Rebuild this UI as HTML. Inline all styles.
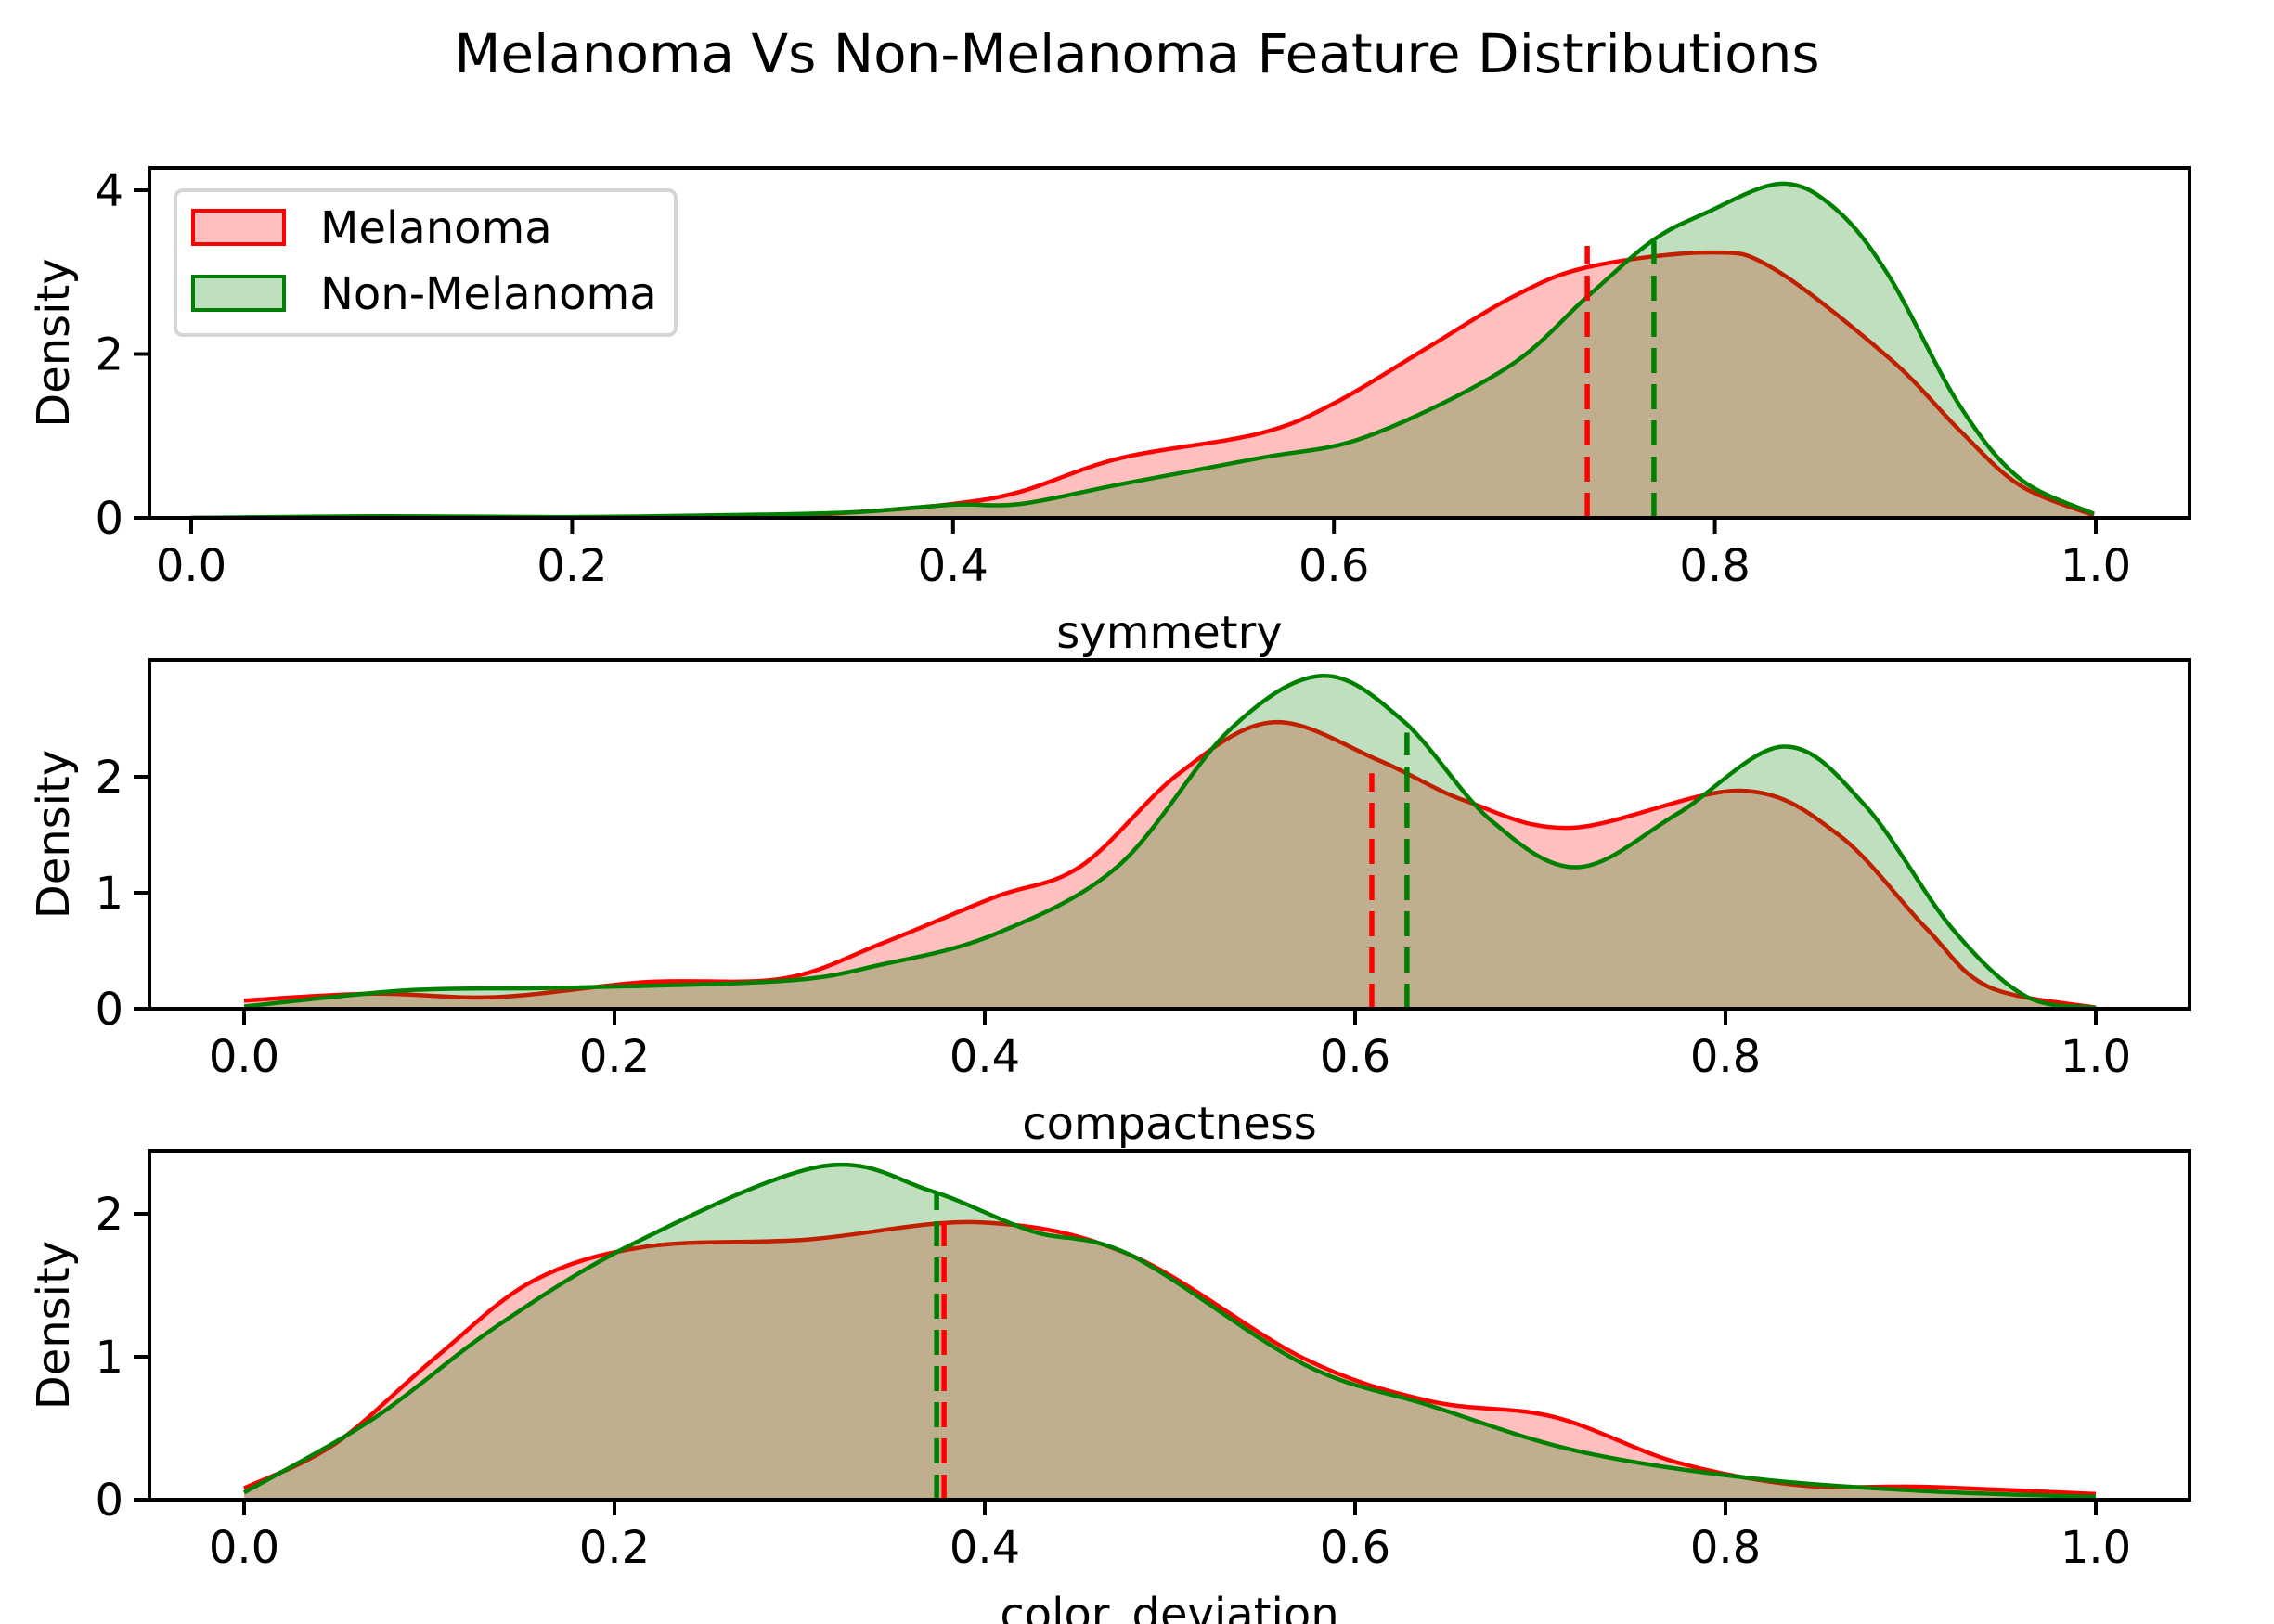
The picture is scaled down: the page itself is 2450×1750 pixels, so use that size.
<!DOCTYPE html>
<html><head><meta charset="utf-8">
<style>
html,body{margin:0;padding:0;background:#fff;}
svg{display:block;font-family:"DejaVu Sans","Liberation Sans",sans-serif;}
</style></head>
<body>
<svg id="chart" width="2450" height="1750" viewBox="0 0 2450 1750" xmlns="http://www.w3.org/2000/svg">
<rect width="2450" height="1750" fill="#fff"/>
<text x="1225" y="78" font-size="58" text-anchor="middle">Melanoma Vs Non-Melanoma Feature Distributions</text>
</svg>
<script>
// ---- data ----
const xTicks = [0.0, 0.2, 0.4, 0.6, 0.8, 1.0];
const xTickLabels = ["0.0","0.2","0.4","0.6","0.8","1.0"];
const featureNames = ["symmetry","compactness","color_deviation"];

const symMelX = [0,0.1,0.2,0.3,0.35,0.4,0.4355,0.488,0.561,0.601,0.65,0.694,0.733,0.797,0.831,0.892,0.928,0.96,0.999];
const symMelY = [0,0.005,0.005,0.02,0.07,0.17,0.32,0.73,1.03,1.41,2.09,2.70,3.06,3.24,3.04,1.94,1.08,0.40,0.03];
const symNonX = [0,0.1,0.2,0.3,0.35,0.4,0.4355,0.488,0.561,0.617,0.69,0.733,0.767,0.795,0.835,0.864,0.892,0.928,0.96,0.999];
const symNonY = [0,0.02,0.01,0.04,0.07,0.16,0.17,0.41,0.73,0.99,1.82,2.70,3.38,3.72,4.08,3.76,2.93,1.39,0.48,0.05];

const cmpMelX = [0,0.069,0.136,0.217,0.291,0.344,0.405,0.452,0.505,0.556,0.613,0.660,0.717,0.808,0.861,0.908,0.942,1.0];
const cmpMelY = [0.07,0.13,0.10,0.23,0.26,0.56,0.96,1.23,2.03,2.47,2.14,1.79,1.56,1.88,1.50,0.70,0.19,0.01];
const cmpNonX = [0,0.089,0.170,0.291,0.344,0.405,0.472,0.532,0.582,0.626,0.673,0.720,0.774,0.831,0.875,0.922,0.962,1.0];
const cmpNonY = [0.02,0.16,0.18,0.24,0.38,0.64,1.23,2.40,2.87,2.48,1.63,1.22,1.68,2.26,1.76,0.70,0.11,0.01];

const colMelX = [0,0.049,0.103,0.156,0.217,0.304,0.398,0.479,0.572,0.640,0.707,0.774,0.841,0.908,1.0];
const colMelY = [0.08,0.39,0.99,1.53,1.77,1.82,1.94,1.71,0.99,0.69,0.58,0.26,0.10,0.09,0.04];
const colNonX = [0,0.069,0.136,0.210,0.311,0.371,0.425,0.479,0.572,0.640,0.720,0.814,0.908,1.0];
const colNonY = [0.05,0.56,1.21,1.79,2.33,2.16,1.88,1.71,0.95,0.66,0.34,0.15,0.06,0.02];

const meanMel = [0.733, 0.609, 0.378];
const meanMelTop = [3.32, 2.03, 1.94];
const meanNon = [0.768, 0.628, 0.374];
const meanNonTop = [3.38, 2.38, 2.15];

const yTicks1 = [0,2,4];
const yTicks2 = [0,1,2];
const yTicks3 = [0,1,2];

// ---- layout ----
const NS = "http://www.w3.org/2000/svg";
const svg = document.getElementById('chart');
function mk(tag, attrs, parent){
  const e = document.createElementNS(NS, tag);
  for (const k in attrs) e.setAttribute(k, attrs[k]);
  (parent||svg).appendChild(e);
  return e;
}
const panels = [
  {top:181,bottom:558,left:161,right:2359,x0:206,x1:2258,y0:558,yPerUnit:94.25,yt:yTicks1,
   mx:symMelX,my:symMelY,nx:symNonX,ny:symNonY,label:1},
  {top:711,bottom:1087,left:161,right:2359,x0:263,x1:2258,y0:1087,yPerUnit:125,yt:yTicks2,
   mx:cmpMelX,my:cmpMelY,nx:cmpNonX,ny:cmpNonY},
  {top:1240,bottom:1616,left:161,right:2359,x0:263,x1:2258,y0:1616,yPerUnit:154,yt:yTicks3,
   mx:colMelX,my:colMelY,nx:colNonX,ny:colNonY}
];
// panel 1: y4 at 205 -> (558-205)/4 = 88.25
panels[0].yPerUnit = 88.25;

function smoothPath(xs, ys){
  let d = `M${xs[0]},${ys[0]}`;
  for (let i=0;i<xs.length-1;i++){
    const x0 = xs[Math.max(i-1,0)], y0 = ys[Math.max(i-1,0)];
    const x1 = xs[i], y1 = ys[i], x2 = xs[i+1], y2 = ys[i+1];
    const x3 = xs[Math.min(i+2,xs.length-1)], y3 = ys[Math.min(i+2,xs.length-1)];
    const c1x = x1 + (x2-x0)/6, c1y = y1 + (y2-y0)/6;
    const c2x = x2 - (x3-x1)/6, c2y = y2 - (y3-y1)/6;
    d += ` C${c1x.toFixed(1)},${c1y.toFixed(1)} ${c2x.toFixed(1)},${c2y.toFixed(1)} ${x2.toFixed(1)},${y2.toFixed(1)}`;
  }
  return d;
}

panels.forEach((p, idx) => {
  const sx = v => p.x0 + v*(p.x1-p.x0);
  const sy = v => p.y0 - v*p.yPerUnit;
  const g = mk('g', {});
  
  
  const cid = 'clip'+idx;
  const cp = mk('clipPath', {id:cid}, g);
  mk('rect', {x:p.left, y:p.top, width:p.right-p.left, height:p.bottom-p.top}, cp);
  const series = [
    {xs:p.mx, ys:p.my, col:'#ff0000', name:'melanoma'},
    {xs:p.nx, ys:p.ny, col:'#008000', name:'non-melanoma'}
  ];
  series.forEach(s => {
    const px = s.xs.map(sx), py = s.ys.map(sy);
    const line = smoothPath(px, py);
    const fill = mk('path', {d: line + ` L${px[px.length-1]},${p.y0} L${px[0]},${p.y0} Z`, fill:s.col, 'fill-opacity':0.25, stroke:'none','clip-path':`url(#${cid})`}, g);
    
    
    const ln = mk('path', {d: line, fill:'none', stroke:s.col, 'stroke-width':4.5, 'stroke-linejoin':'round','clip-path':`url(#${cid})`}, g);
    
    
  });
  const m1 = mk('line', {x1:sx(meanMel[idx]), x2:sx(meanMel[idx]), y1:p.y0, y2:sy(meanMelTop[idx]), stroke:'#ff0000','stroke-width':5.5,'stroke-dasharray':'27 12'}, g);
  
  
  const m2 = mk('line', {x1:sx(meanNon[idx]), x2:sx(meanNon[idx]), y1:p.y0, y2:sy(meanNonTop[idx]), stroke:'#008000','stroke-width':5.5,'stroke-dasharray':'27 12'}, g);
  
  
  // frame
  const fr = mk('rect', {x:p.left, y:p.top, width:p.right-p.left, height:p.bottom-p.top, fill:'none', stroke:'#000','stroke-width':4}, g);
  
  
  // x ticks
  xTicks.forEach((t,i) => {
    const x = sx(t);
    const tk = mk('line', {x1:x, x2:x, y1:p.bottom, y2:p.bottom+17, stroke:'#000','stroke-width':4}, g);
    
    
    const tl = mk('text', {x:x, y:p.bottom+68, 'font-size':48, 'text-anchor':'middle'}, g);
    tl.textContent = xTickLabels[i];
    
    
  });
  // y ticks
  p.yt.forEach(t => {
    const y = sy(t);
    const tk = mk('line', {x1:p.left-17, x2:p.left, y1:y, y2:y, stroke:'#000','stroke-width':4}, g);
    
    
    const tl = mk('text', {x:p.left-28, y:y+17, 'font-size':48, 'text-anchor':'end'}, g);
    tl.textContent = String(t);
    
    
  });
  const xl = mk('text', {x:(p.left+p.right)/2, y:p.bottom+140, 'font-size':48, 'text-anchor':'middle'}, g);
  xl.textContent = featureNames[idx];
  
  
  const yc = (p.top+p.bottom)/2;
  const yl = mk('text', {x:0, y:0, 'font-size':48, 'text-anchor':'middle', transform:`translate(74,${yc}) rotate(-90)`}, g);
  yl.textContent = 'Density';
  
  
});

// legend
const lg = mk('g', {});


mk('rect', {x:189, y:205, width:539, height:156, rx:8, fill:'#fff', 'fill-opacity':0.8, stroke:'#d6d6d6', 'stroke-width':4}, lg);
const legendLabels = ['Melanoma','Non-Melanoma'];
const legendCols = ['#ff0000','#008000'];
legendLabels.forEach((lab,i) => {
  const y = 227 + i*71;
  const e = mk('g', {}, lg);
  
  
  mk('rect', {x:208, y:y, width:98, height:36, fill:legendCols[i], 'fill-opacity':0.25, stroke:legendCols[i], 'stroke-width':4}, e);
  const t = mk('text', {x:345, y:y+35, 'font-size':48}, e);
  t.textContent = lab;
});
</script>
</body></html>
